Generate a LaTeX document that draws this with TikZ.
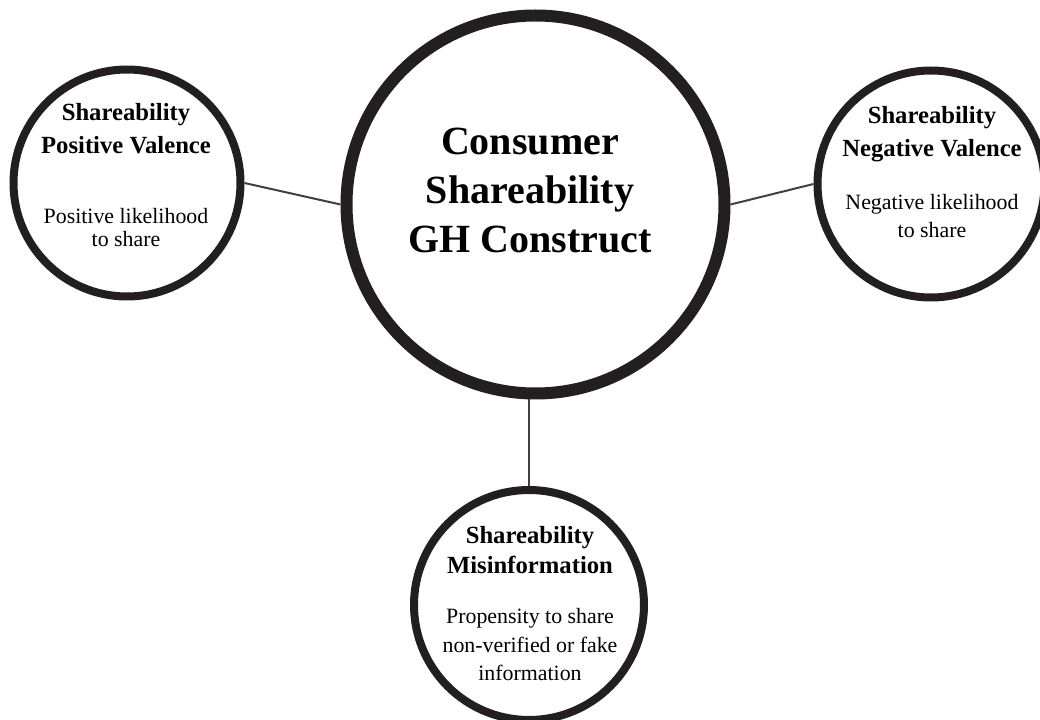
\documentclass[tikz,border=0pt]{standalone}
\usepackage{fontspec}
\setmainfont{Liberation Serif}
\usepackage{tikz}
\definecolor{tinta}{HTML}{231F20}
\definecolor{gris}{HTML}{404040}

\begin{document}
\begin{tikzpicture}[x=0.75pt,y=-0.75pt,
    constructo/.style={circle,draw=tinta,line width=9pt,outer sep=4.5pt,minimum size=283.5pt,inner sep=0pt},
    faceta/.style={circle,draw=tinta,line width=6pt,outer sep=3pt,minimum size=170.25pt,inner sep=0pt},
    conexion/.style={draw=gris,line width=1.5pt},
    central/.style={anchor=base,align=flush center,text width=260pt,font=\bfseries\fontsize{30}{36.4}\selectfont},
    titulo/.style={anchor=base,align=flush center,text width=200pt,font=\bfseries\fontsize{18.5}{#1}\selectfont},
    texto/.style={anchor=base,align=flush center,text width=200pt,font=\fontsize{16.4}{#1}\selectfont}]
    \useasboundingbox (0,0) rectangle (1040,720);
    \fill[white] (0,0) rectangle (1040,720);

    % Circulos
    \node[constructo] (gh) at (535.5,204.5) {};
    \node[faceta] (pos) at (127,183) {};
    \node[faceta] (neg) at (931,184) {};
    \node[faceta,minimum size=172.5pt] (mis) at (529,605) {};

    % Conexiones
    \draw[conexion] (pos.east) -- (gh.west);
    \draw[conexion] (neg.west) -- (gh.east);
    \draw[conexion] (mis.north) -- (mis.north |- gh.south);

    % Textos
    \node[central] (ghT) at (530,155) {Consumer\\Shareability\\GH Construct};
    \node[titulo=24.75pt] (posT) at (126,121) {Shareability\\Positive Valence};
    \node[texto=17.25pt] (posD) at (126,224) {Positive likelihood\\to share};
    \node[titulo=24.75pt] (negT) at (932,124) {Shareability\\Negative Valence};
    \node[texto=21pt] (negD) at (932,210) {Negative likelihood\\to share};
    \node[titulo=22.5pt] (misT) at (530,543) {Shareability\\Misinformation};
    \node[texto=21.75pt] (misD) at (530,623) {Propensity to share\\non-verified or fake\\information};
\end{tikzpicture}
\end{document}
